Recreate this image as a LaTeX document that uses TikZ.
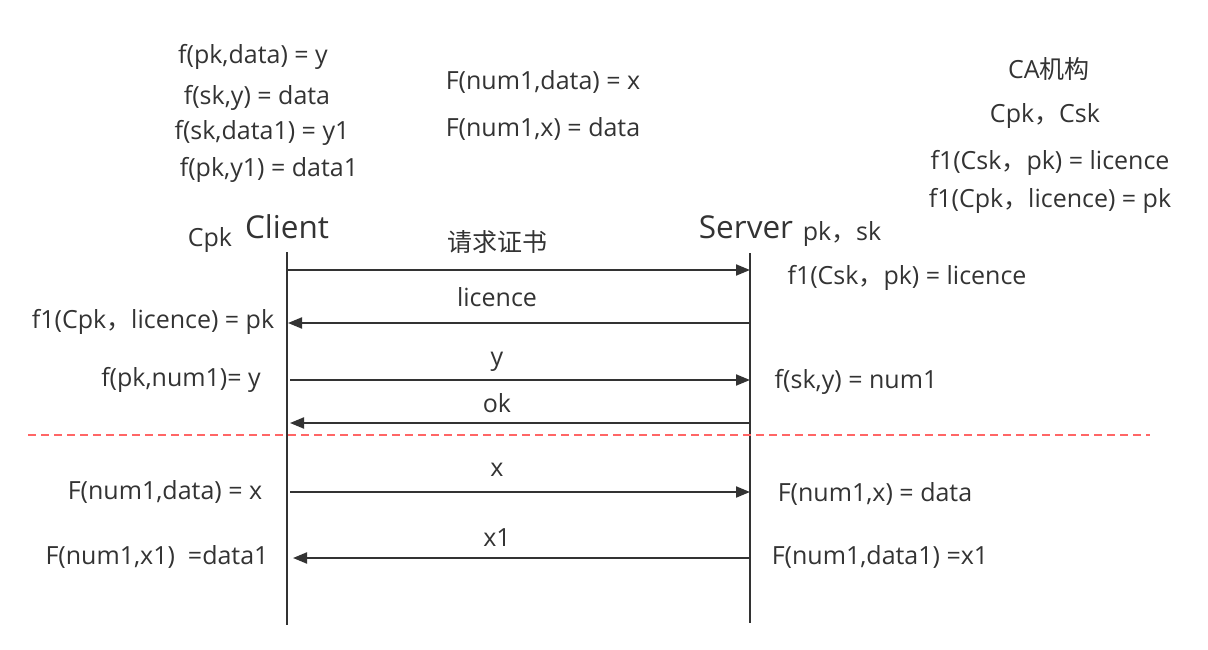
\documentclass[tikz,border=0pt]{standalone}
\usepackage{fontspec}
\setmainfont{Open Sans}
\newfontfamily\cjk{Noto Sans CJK SC}
\newcommand\zc{{\cjk ，}}
\usetikzlibrary{arrows.meta}
\definecolor{ink}{HTML}{333333}
\definecolor{redd}{HTML}{FF6666}
\tikzset{
  txt/.style={inner sep=0pt,text=ink,font=\fontsize{25}{30}\selectfont},
  big/.style={inner sep=0pt,text=ink,font=\fontsize{31.5}{36}\selectfont},
  life/.style={draw=ink,line width=1.6pt},
  msg/.style={draw=ink,line width=2pt,-{Triangle[length=14pt,width=11pt]}},
  sep/.style={draw=redd,line width=1.4pt,dash pattern=on 8pt off 5pt}
}
\begin{document}
\begin{tikzpicture}[x=1pt,y=-1pt]
\useasboundingbox (0,0) rectangle (1208,650);
% top formulas
\node[txt] (t1) at (253,57) {f(pk,data) = y};
\node[txt] (t2) at (257,98) {f(sk,y) = data};
\node[txt] (t3) at (262,133) {f(sk,data1) = y1};
\node[txt] (t4) at (269,170) {f(pk,y1) = data1};
\node[txt] (t5) at (543,82) {F(num1,data) = x};
\node[txt] (t6) at (543,129) {F(num1,x) = data};
\node[txt] (ca) at (1049,69) {CA{\cjk 机构}};
\node[txt] (ca2) at (1045,116) {Cpk\zc Csk};
\node[txt] (ca3) at (1050,163) {f1(Csk\zc pk) = licence};
\node[txt] (ca4) at (1050,201) {f1(Cpk\zc licence) = pk};
% heads
\node[big] (client) at (287,227) {Client};
\node[big] (server) at (746,227) {Server};
\node[txt] (cpk) at (210,240) {Cpk};
\node[txt] (pksk) at (842,234) {pk\zc sk};
% lifelines
\coordinate (ctop) at (287,252);
\coordinate (cbot) at (287,625);
\coordinate (stop) at (750,253);
\coordinate (sbot) at (750,623);
\draw[life] (ctop) -- (cbot);
\draw[life] (stop) -- (sbot);
% message endpoints
\coordinate (a1) at (288,270); \coordinate (b1) at (750,270);
\coordinate (a2) at (288,323); \coordinate (b2) at (750,323);
\coordinate (a3) at (290,380); \coordinate (b3) at (750,380);
\coordinate (a4) at (290,423); \coordinate (b4) at (750,423);
\coordinate (a5) at (290,492); \coordinate (b5) at (750,492);
\coordinate (a6) at (293,558); \coordinate (b6) at (750,558);
\draw[msg] (a1) -- (b1);
\draw[msg] (b2) -- (a2);
\draw[msg] (a3) -- (b3);
\draw[msg] (b4) -- (a4);
\draw[msg] (a5) -- (b5);
\draw[msg] (b6) -- (a6);
% message labels
\node[txt] (m1) at (497,242) {\cjk 请求证书};
\node[txt] (m2) at (497,297) {licence};
\node[txt] (m3) at (497,362) {y};
\node[txt] (m4) at (497,403) {ok};
\node[txt] (m5) at (497,470) {x};
\node[txt] (m6) at (497,538) {x1};
% separator
\coordinate (d1) at (28,435);
\coordinate (d2) at (1150,435);
\draw[sep] (d1) -- (d2);
% side texts
\node[txt] (s1) at (907,278) {f1(Csk\zc pk) = licence};
\node[txt] (l1) at (153,322) {f1(Cpk\zc licence) = pk};
\node[txt] (l2) at (181,380) {f(pk,num1)= y};
\node[txt] (s2) at (856,382) {f(sk,y) = num1};
\node[txt] (l3) at (165,492) {F(num1,data) = x};
\node[txt] (s3) at (875,494) {F(num1,x) = data};
\node[txt] (l4) at (157,557) {F(num1,x1)~~=data1};
\node[txt] (s4) at (880,557) {F(num1,data1) =x1};
\end{tikzpicture}
\end{document}
